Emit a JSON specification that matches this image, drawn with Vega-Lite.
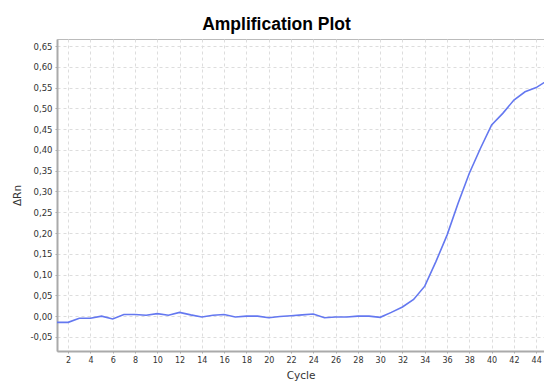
{
  "$schema": "https://vega.github.io/schema/vega-lite/v6.json",
  "width": 487,
  "height": 312,
  "autosize": {"type": "none"},
  "padding": {"left": 57, "top": 39, "right": 0, "bottom": 31},
  "background": "white",
  "title": {"text": "Amplification Plot", "font": "Liberation Sans", "fontSize": 17.5, "fontWeight": "bold", "color": "#000000", "anchor": "middle", "dx": -24, "offset": 6},
  "config": {
    "view": {"stroke": "#bbbbbb", "strokeWidth": 1},
    "axis": {"gridColor": "#dddddd", "gridDash": [3, 3], "gridWidth": 1, "labelFont": "DejaVu Sans", "labelFontSize": 8.5, "labelColor": "#333333", "titleFont": "DejaVu Sans", "titleFontSize": 10.5, "titleFontWeight": "normal", "titleColor": "#333333", "domainColor": "#aaaaaa", "domainWidth": 2, "tickColor": "#aaaaaa", "tickSize": 2}
  },
  "data": {"values": [
    {"cycle": 1, "drn": -0.015}, {"cycle": 2, "drn": -0.015}, {"cycle": 3, "drn": -0.005}, {"cycle": 4, "drn": -0.005},
    {"cycle": 5, "drn": 0.0}, {"cycle": 6, "drn": -0.007}, {"cycle": 7, "drn": 0.004}, {"cycle": 8, "drn": 0.004},
    {"cycle": 9, "drn": 0.002}, {"cycle": 10, "drn": 0.006}, {"cycle": 11, "drn": 0.002}, {"cycle": 12, "drn": 0.009},
    {"cycle": 13, "drn": 0.003}, {"cycle": 14, "drn": -0.002}, {"cycle": 15, "drn": 0.002}, {"cycle": 16, "drn": 0.004},
    {"cycle": 17, "drn": -0.002}, {"cycle": 18, "drn": 0.0}, {"cycle": 19, "drn": 0.0}, {"cycle": 20, "drn": -0.004},
    {"cycle": 21, "drn": -0.001}, {"cycle": 22, "drn": 0.001}, {"cycle": 23, "drn": 0.003}, {"cycle": 24, "drn": 0.005},
    {"cycle": 25, "drn": -0.004}, {"cycle": 26, "drn": -0.002}, {"cycle": 27, "drn": -0.002}, {"cycle": 28, "drn": 0.0},
    {"cycle": 29, "drn": 0.0}, {"cycle": 30, "drn": -0.003}, {"cycle": 31, "drn": 0.009}, {"cycle": 32, "drn": 0.022},
    {"cycle": 33, "drn": 0.04}, {"cycle": 34, "drn": 0.072}, {"cycle": 35, "drn": 0.131}, {"cycle": 36, "drn": 0.195},
    {"cycle": 37, "drn": 0.272}, {"cycle": 38, "drn": 0.344}, {"cycle": 39, "drn": 0.404}, {"cycle": 40, "drn": 0.46},
    {"cycle": 41, "drn": 0.488}, {"cycle": 42, "drn": 0.52}, {"cycle": 43, "drn": 0.54}, {"cycle": 44, "drn": 0.55},
    {"cycle": 45, "drn": 0.567}
  ]},
  "mark": {"type": "line", "color": "#6478f0", "strokeWidth": 1.6, "clip": true},
  "encoding": {
    "x": {"field": "cycle", "type": "quantitative", "scale": {"domain": [1, 44.7], "nice": false, "zero": false},
      "axis": {"title": "Cycle", "values": [2,4,6,8,10,12,14,16,18,20,22,24,26,28,30,32,34,36,38,40,42,44], "labelFontSize": 8, "titlePadding": 6, "labelPadding": 3}},
    "y": {"field": "drn", "type": "quantitative", "scale": {"domain": [-0.084, 0.667], "nice": false, "zero": false},
      "axis": {"title": "ΔRn", "values": [-0.05,0,0.05,0.1,0.15,0.2,0.25,0.3,0.35,0.4,0.45,0.5,0.55,0.6,0.65],
        "labelExpr": "replace(replace(format(datum.value, '.2f'), '.', ','), '\u2212', '-')", "titlePadding": 8, "labelPadding": 3}}
  }
}
